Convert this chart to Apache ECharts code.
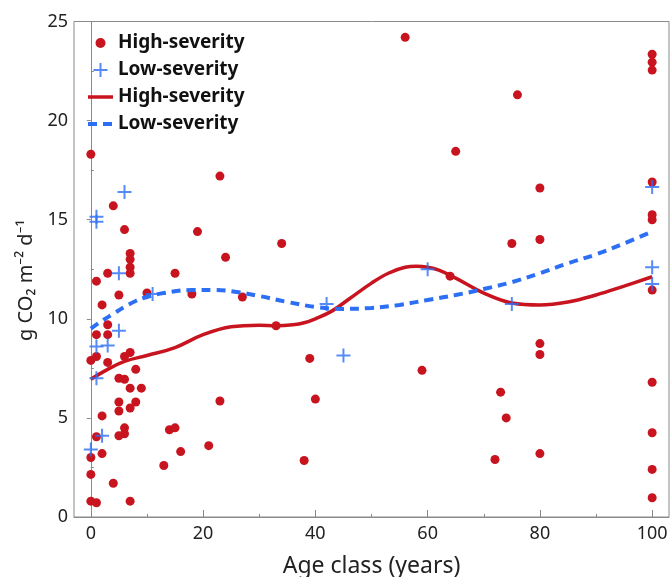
<!DOCTYPE html>
<html>
<head>
<meta charset="utf-8">
<script src="https://cdn.jsdelivr.net/npm/echarts@6/dist/echarts.min.js"></script>
<style>html,body{margin:0;padding:0;background:#fff}#c{width:670px;height:577px}</style>
</head>
<body>
<div id="c"></div>
<script>
// High-severity observations (age class, g CO2 m-2 d-1)
const highX = [0,4,6,7,7,7,7,3,1,5,2,10,3,1,3,0,1,3,6,7,8,5,6,7,9,5,5,8,7,2,6,6,5,1,0,2,0,4,0,1,7,
  23,19,34,24,15,18,27,33,39,23,40,14,15,21,16,13,38,
  56,76,65,80,75,80,64,80,80,59,73,74,72,80,
  100,100,100,100,100,100,100,100,100,100,100];
const highY = [18.3,15.7,14.5,13.3,13.0,12.6,12.3,12.3,11.9,11.2,10.7,11.3,9.7,9.2,9.2,7.9,8.1,7.8,8.1,8.3,7.45,7.0,6.95,6.5,6.5,5.8,5.35,5.8,5.5,5.1,4.5,4.2,4.1,4.05,3.0,3.2,2.15,1.7,0.8,0.72,0.8,
  17.2,14.4,13.8,13.1,12.3,11.25,11.1,9.65,8.0,5.85,5.95,4.4,4.5,3.6,3.3,2.6,2.85,
  24.2,21.3,18.45,16.6,13.8,14.0,12.15,8.75,8.2,7.4,6.3,5.0,2.9,3.2,
  23.35,22.95,22.55,16.9,15.25,15.0,11.45,6.8,4.25,2.4,0.97];
// Low-severity observations
const lowX = [6,1,1,5,11,5,1,3,1,2,0,42,45,60,75,100,100,100];
const lowY = [16.4,15.15,14.9,12.3,11.25,9.4,8.6,8.65,7.0,4.1,3.4,10.75,8.15,12.5,10.75,16.65,12.6,11.75];
// Fitted curves
const fitHighX = [0,3,6,10,15,20,25,30,33,36,38,40,43,46,50,53,56,58,60,62,65,70,75,80,85,90,95,100];
const fitHighY = [6.95,7.45,7.85,8.15,8.55,9.2,9.6,9.68,9.65,9.7,9.8,10.0,10.4,11.0,11.8,12.3,12.6,12.65,12.6,12.45,12.05,11.3,10.8,10.7,10.85,11.2,11.65,12.12];
const fitLowX = [0,2,4,6,8,10,13,18,22,26,30,35,40,45,50,55,60,65,70,75,80,85,90,95,100];
const fitLowY = [9.5,9.9,10.25,10.6,10.9,11.1,11.3,11.45,11.45,11.35,11.15,10.85,10.6,10.5,10.55,10.7,10.95,11.2,11.5,11.85,12.3,12.8,13.25,13.8,14.4];
const xLabels = [0,20,40,60,80,100];
const xMinor = [10,30,50,70,90];
const yMinor = [2.5,7.5,12.5,17.5,22.5];

const RED = '#c8141f', BLUE = '#2c6ef4', AX = '#8a8a8a', TXT = '#222';
const FONT = 'Noto Sans';
const zip = (a,b) => a.map((v,i)=>[v,b[i]]);
const plus = 'path://M7,0L7,14M0,7L14,7';
const dotIcon = 'path://M0,0L0,0M25,14L25,14M7.5,7A5,5,0,1,0,17.5,7A5,5,0,1,0,7.5,7Z';
const plusIcon = 'path://M0,7L0,7M25,7L25,7M12.5,0L12.5,14M5.5,7L19.5,7';
const hidden = {color:'rgba(0,0,0,0)', borderColor:'rgba(0,0,0,0)', borderWidth:0, opacity:0};

const chart = echarts.init(document.getElementById('c'));
chart.setOption({
  animation:false,
  textStyle:{fontFamily:FONT},
  grid:{left:74,right:1,top:21.5,bottom:60,show:true,borderColor:AX,borderWidth:1,outerBoundsMode:'none',containLabel:false},
  legend:{
    left:81, top:28, orient:'vertical', itemWidth:25, itemHeight:14, itemGap:7,
    formatter: n => n.trim(),
    textStyle:{fontFamily:FONT,fontSize:19,fontWeight:'bold',color:'#111',lineHeight:20},
    lineStyle:{width:'inherit'},
    data:[
      {name:'High-severity', icon:dotIcon},
      {name:'Low-severity', icon:plusIcon},
      {name:'High-severity ', itemStyle:hidden},
      {name:'Low-severity ', itemStyle:hidden}
    ]
  },
  xAxis:[{
    type:'value', min:-3, max:103, position:'bottom',
    name:'Age class (years)', nameLocation:'middle', nameGap:38,
    nameTextStyle:{fontFamily:FONT,fontSize:23,color:TXT},
    axisLine:{lineStyle:{color:AX,width:1}},
    axisTick:{inside:true,length:7,lineStyle:{color:AX},customValues:xLabels},
    axisLabel:{customValues:xLabels,margin:8,fontSize:18,color:TXT,fontFamily:FONT},
    splitLine:{show:false}
  },{
    type:'value', min:-3, max:103, position:'bottom', offset:0,
    axisLine:{show:false},
    axisTick:{inside:true,length:3,lineStyle:{color:AX},customValues:xMinor},
    axisLabel:{show:false}, splitLine:{show:false}
  }],
  yAxis:[{
    type:'value', min:0, max:25, interval:5, position:'left',
    name:'g CO\u2082 m\u207B\u00B2 d\u207B\u00B9', nameLocation:'middle', nameGap:34,
    nameTextStyle:{fontFamily:FONT,fontSize:20,color:TXT,padding:[0,22,0,0]},
    axisLine:{show:true,lineStyle:{color:AX,width:1}},
    axisTick:{show:true,inside:false,length:4,lineStyle:{color:AX}},
    axisLabel:{margin:6,fontSize:18,color:TXT,fontFamily:FONT},
    splitLine:{show:false}
  },{
    type:'value', min:0, max:25, position:'left', offset:0,
    axisLine:{show:false},
    axisTick:{show:true,inside:true,length:3,lineStyle:{color:AX},customValues:yMinor},
    axisLabel:{show:false}, splitLine:{show:false}
  }],
  series:[
    {name:'High-severity', type:'scatter', xAxisIndex:0, yAxisIndex:0, data:zip(highX,highY),
     symbol:'circle', symbolSize:9, itemStyle:{color:RED,opacity:1}, z:2},
    {name:'Low-severity', type:'scatter', xAxisIndex:0, yAxisIndex:0, data:zip(lowX,lowY),
     symbol:plus, symbolSize:14, itemStyle:{color:'rgba(0,0,0,0)',borderColor:BLUE,borderWidth:2}, z:4},
    {name:'High-severity ', type:'line', xAxisIndex:0, yAxisIndex:0, data:zip(fitHighX,fitHighY),
     smooth:0.4, symbol:'none', lineStyle:{color:RED,width:3.5}, itemStyle:{color:RED}, z:3},
    {name:'Low-severity ', type:'line', xAxisIndex:0, yAxisIndex:0, data:zip(fitLowX,fitLowY),
     smooth:0.4, symbol:'none', lineStyle:{color:BLUE,width:4,type:[9,6]}, itemStyle:{color:BLUE}, z:3}
  ]
});
</script>
</body>
</html>
